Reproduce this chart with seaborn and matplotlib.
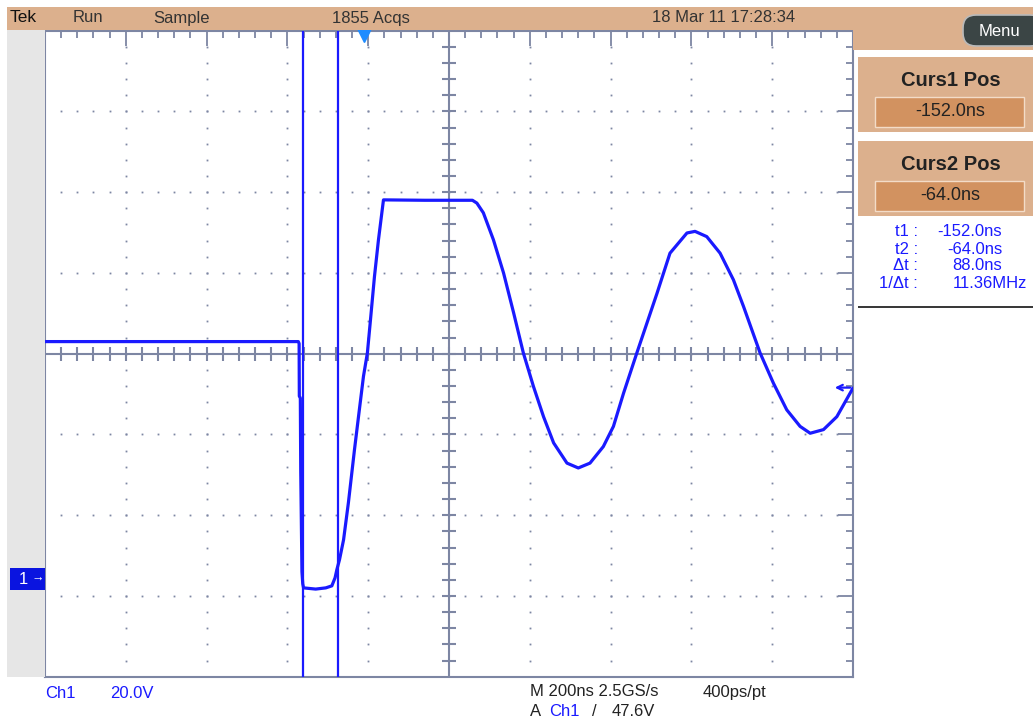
import numpy as np
import pandas as pd
import matplotlib
matplotlib.use('Agg')
import matplotlib.pyplot as plt
from matplotlib import font_manager as fm
from matplotlib.patches import Rectangle, FancyBboxPatch
import seaborn as sns

# scope settings
NS_PER_DIV = 200
V_PER_DIV = 20
T_LEFT = -790          # ns at left edge of graticule
V_BOTTOM = -24         # volts at bottom edge
CURSORS = [-152.0, -64.0]
TRIG_LEVEL = 47.6

# trace (ns, V)
T_NS = [-790, -163, -161, -160.5, -158, -157, -154, -152, -150, -120, -95, -80,
        -72, -67.6, -61, -51, -39, -24, -14, -1.7, 8, 15, 25.5, 35.4, 47.8,
        150, 268, 279, 295, 320, 345, 370, 394, 419, 444, 469, 502, 530, 559,
        592, 617, 642, 675, 700, 725, 757, 799, 819, 848, 881, 914, 939, 980,
        1013, 1046, 1079, 1104, 1137, 1170, 1210]
VOLTS = [59.0, 59.0, 58.5, 45.5, 45.0, 27.0, 2.0, -1.0, -2.0, -2.3, -2.0, -1.5,
         0.5, 2.5, 5.0, 9.9, 19.1, 32.2, 40.4, 50.4, 56.2, 63.7, 75.1, 84.2,
         94.1, 94.0, 94.0, 93.3, 90.9, 84.2, 76.0, 66.1, 56.2, 47.9, 40.4,
         33.9, 28.9, 27.7, 28.9, 33.0, 38.0, 46.2, 56.2, 63.6, 71.0, 80.9,
         85.9, 86.3, 85.0, 80.9, 74.3, 67.7, 56.2, 48.7, 42.1, 38.0, 36.3,
         37.2, 40.4, 47.5]

STATUS = ['Tek', 'Run', 'Sample', '1855 Acqs', '18 Mar 11 17:28:34']
READ_LABELS = ['t1 :', 't2 :', '\u0394t :', '1/\u0394t :']
READ_VALUES = ['-152.0ns', '-64.0ns', '88.0ns', '11.36MHz']

TRACE = '#1a1aff'
GRID = '#7d86a3'
TAN = '#dcb08d'
TAN_DARK = '#d29260'


def pick(names):
    for n in names:
        try:
            fm.findfont(fm.FontProperties(family=n), fallback_to_default=False)
            return n
        except Exception:
            pass
    return 'DejaVu Sans'


sns.set_style('white')
FONT = pick(['Liberation Sans Narrow', 'Liberation Sans', 'DejaVu Sans'])
plt.rcParams['font.family'] = [FONT, 'DejaVu Sans']

fig = plt.figure(figsize=(10.33, 7.24), dpi=100)
T = fig.dpi_scale_trans


def P(x, y):
    return (x / 100, (724 - y) / 100)


def box(x0, y0, x1, y1, **kw):
    fig.patches.append(Rectangle(P(x0, y1), (x1 - x0) / 100, (y1 - y0) / 100,
                                 transform=T, **kw))


def txt(x, y, s, **kw):
    kw.setdefault('va', 'center')
    fig.text(*P(x, y), s, transform=T, **kw)


# frame pieces around the graticule
box(7, 7, 1033, 30, color=TAN, lw=0)
box(853, 30, 1033, 50, color=TAN, lw=0)
box(7, 30, 45, 677, color='#e6e6e6', lw=0)
box(858, 57, 1033, 132, color=TAN, lw=0)
box(858, 141, 1033, 216, color=TAN, lw=0)
box(875, 97, 1024, 127, facecolor=TAN_DARK, edgecolor='#f3dcc8', lw=1)
box(875, 181, 1024, 211, facecolor=TAN_DARK, edgecolor='#f3dcc8', lw=1)
box(858, 305.5, 1033, 307.5, color='#3a3a3a', lw=0)
fig.patches.append(FancyBboxPatch(P(963, 46), 0.8, 0.31, transform=T,
                                  boxstyle='round,pad=0,rounding_size=0.13',
                                  facecolor='#3b4545', edgecolor='#b9b9b9', lw=1.2))
box(10, 568, 45, 590, color='#0a14e0', lw=0)

# graticule
ax = fig.add_axes([45 / 1033, 1 - 676.7 / 724, 808 / 1033, 646 / 724])
x_major = np.arange(T_LEFT, T_LEFT + 10 * NS_PER_DIV + 1, NS_PER_DIV)
y_major = np.arange(V_BOTTOM, V_BOTTOM + 8 * V_PER_DIV + 1, V_PER_DIV)
x_minor = np.arange(T_LEFT, x_major[-1] + 1, NS_PER_DIV / 5)
y_minor = np.arange(V_BOTTOM, y_major[-1] + 1, V_PER_DIV / 5)
x_mid = x_major[5]
y_mid = y_major[4]

ax.set_xlim(x_major[0], x_major[-1])
ax.set_ylim(y_major[0], y_major[-1])
ax.set_xticks(x_major)
ax.set_yticks(y_major)
ax.set_xticks(x_minor, minor=True)
ax.set_yticks(y_minor, minor=True)
ax.tick_params(which='both', direction='in', top=True, right=True,
               labelbottom=False, labelleft=False, color=GRID, width=1.3)
ax.tick_params(which='major', length=11)
ax.tick_params(which='minor', length=5)
for sp in ax.spines.values():
    sp.set_color(GRID)
    sp.set_linewidth(1.5)

for xv in x_major[1:-1]:
    if xv == x_mid:
        continue
    yy = y_minor[1:-1]
    ax.plot(np.full(len(yy), xv), yy, ls='', marker='s', ms=1.3, color=GRID, mew=0)
for yv in y_major[1:-1]:
    if yv == y_mid:
        continue
    xx = x_minor[1:-1]
    ax.plot(xx, np.full(len(xx), yv), ls='', marker='s', ms=1.3, color=GRID, mew=0)

ax.axhline(y_mid, color=GRID, lw=1.5)
ax.axvline(x_mid, color=GRID, lw=1.5)
ax.plot(x_minor[1:-1], np.full(len(x_minor) - 2, y_mid), ls='', marker='|',
        ms=10, mew=1.5, color=GRID)
ax.plot(np.full(len(y_minor) - 2, x_mid), y_minor[1:-1], ls='', marker='_',
        ms=10, mew=1.5, color=GRID)

# cursors and trace
for c in CURSORS:
    ax.axvline(c, color=TRACE, lw=1.6, zorder=4)

df = pd.DataFrame({'t_ns': T_NS, 'volts': VOLTS})
sns.lineplot(data=df, x='t_ns', y='volts', ax=ax, color=TRACE, lw=2.3,
             sort=False, estimator=None, zorder=5)
ax.set_xlabel('')
ax.set_ylabel('')

ax.annotate('', xy=(x_major[-1] - 52, TRIG_LEVEL), xytext=(x_major[-1], TRIG_LEVEL),
            arrowprops=dict(arrowstyle='->', color=TRACE, lw=1.6), zorder=6)
ax.plot(0, y_major[-1] - 0.95, marker='v', ms=10, color='#1f8cff', clip_on=False, zorder=6)

# status bar
dark = '#333333'
txt(10, 18, STATUS[0], fontsize=12.5, color='#111111')
txt(73, 18, STATUS[1], fontsize=12, color=dark)
txt(153, 18, STATUS[2], fontsize=12, color=dark)
txt(332, 18, STATUS[3], fontsize=12, color=dark)
txt(652, 18, STATUS[4], fontsize=12, color=dark)
txt(1000, 31, 'Menu', fontsize=12, color='white', ha='center')

# cursor panel
txt(951, 80, 'Curs1 Pos', fontsize=14.5, weight='bold', color='#222222', ha='center')
txt(950, 112, '-152.0ns', fontsize=13, color='#222222', ha='center')
txt(951, 164, 'Curs2 Pos', fontsize=14.5, weight='bold', color='#222222', ha='center')
txt(950, 196, '-64.0ns', fontsize=13, color='#222222', ha='center')
for i, (lab, val) in enumerate(zip(READ_LABELS, READ_VALUES)):
    yy = 232 + i * 17
    txt(918, yy, lab, fontsize=12, color=TRACE, ha='right')
    txt(1027 if i == 3 else 1002, yy, val, fontsize=12, color=TRACE, ha='right')

# channel marker and bottom readout
txt(23, 579, '1', fontsize=12, color='white', ha='center')
txt(38, 579, '\u2192', fontsize=9, color='white', ha='center')
txt(45, 693, 'Ch1', fontsize=12, color=TRACE)
txt(110, 693, '20.0V', fontsize=12, color=TRACE)
txt(530, 692, 'M 200ns 2.5GS/s', fontsize=12, color='#222222')
txt(703, 692, '400ps/pt', fontsize=12, color='#222222')
txt(530, 712, 'A', fontsize=12, color='#222222')
txt(549, 712, 'Ch1', fontsize=12, color=TRACE)
txt(592, 712, '/', fontsize=12, color='#222222')
txt(612, 712, '47.6V', fontsize=12, color='#222222')

fig.savefig('out.png', dpi=100)
